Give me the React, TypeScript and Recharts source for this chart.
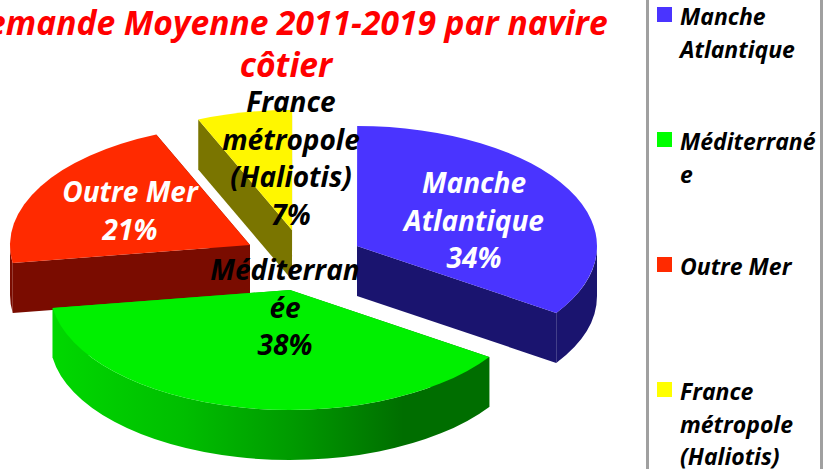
import React from "react";
import { PieChart, Pie, Legend } from "recharts";

const categories = ["Manche Atlantique", "Méditerranée", "Outre Mer", "France métropole (Haliotis)"];
// slice sizes as measured on the picture (printed percentages are in percentLabels)
const values = [34.4, 38.2, 21, 6.4];
const percentLabels = ["34%", "38%", "21%", "7%"];
const labelLines = [["Manche", "Atlantique"], ["Méditerran", "ée"], ["Outre Mer"], ["France", "métropole", "(Haliotis)"]];
const legendLines = [["Manche", "Atlantique"], ["Méditerrané", "e"], ["Outre Mer"], ["France", "métropole", "(Haliotis)"]];
const titleLines = ["Demande Moyenne 2011-2019 par navire", "côtier"];

const drawOrder = [2, 3, 0, 1];
const table = drawOrder.map((i) => ({ name: categories[i], value: values[i], idx: i }));

const topColors = ["#4A34FF", "#00F000", "#FF2A00", "#FFF700"];
const legendColors = ["#4A34FF", "#00FF00", "#FF2A00", "#FFFF00"];
const wallColors = ["#1A146F", "url(#greenWall)", "#7A0C00", "#7A7500"];
const explode = [[67, -4], [0, 40], [-40, -5], [2, -20]];
const labelPos = [[474, 193], [285, 280], [130, 202], [291, 112]];
const labelFill = ["#fff", "#000", "#fff", "#000"];

const FONT = "'Open Sans', Lato, sans-serif";
const CX = 290, CY = 250, RX = 240, RY = 120, DEPTH = 50;

function SliceShape(props: any) {
  const i = props.payload?.idx ?? props.idx;
  const ox = props.cx + explode[i][0];
  const oy = props.cy + explode[i][1];
  const rx = props.outerRadius;
  const ry = rx * (RY / RX);
  const t0 = 90 - props.startAngle;
  const t1 = 90 - props.endAngle;
  const pt = (t: number, d = 0): [number, number] => {
    const r = (t * Math.PI) / 180;
    return [ox + rx * Math.sin(r), oy - ry * Math.cos(r) + d];
  };
  const norm = (t: number) => ((t % 360) + 360) % 360;
  const a0 = norm(t0);
  const a1 = a0 + (t1 - t0);
  const a = pt(a0), b = pt(a1);
  const large = a1 - a0 > 180 ? 1 : 0;
  const top = `M${ox},${oy}L${a[0]},${a[1]}A${rx},${ry} 0 ${large} 1 ${b[0]},${b[1]}Z`;
  const radial = (t: number) => {
    const p = pt(t);
    return `M${ox},${oy}L${p[0]},${p[1]}L${p[0]},${p[1] + DEPTH}L${ox},${oy + DEPTH}Z`;
  };
  const s = Math.max(a0, 90), e = Math.min(a1, 270);
  let outer = "";
  if (e > s) {
    const p = pt(s), q = pt(e);
    const l = e - s > 180 ? 1 : 0;
    outer = `M${p[0]},${p[1]}A${rx},${ry} 0 ${l} 1 ${q[0]},${q[1]}L${q[0]},${q[1] + DEPTH}A${rx},${ry} 0 ${l} 0 ${p[0]},${p[1] + DEPTH}Z`;
  }
  const wall = wallColors[i];
  return (
    <g>
      <path d={radial(a0)} fill={wall} />
      <path d={radial(a1)} fill={wall} />
      {outer && <path d={outer} fill={wall} />}
      <path d={top} fill={topColors[i]} />
    </g>
  );
}

function SliceLabel(props: any) {
  const i = props.payload?.idx ?? props.idx;
  const [x, y] = labelPos[i];
  const lines = [...labelLines[i], percentLabels[i]];
  return (
    <text x={x} y={y} textAnchor="middle" fontFamily={FONT} fontSize={28} fontWeight={700} fontStyle="italic" fill={labelFill[i]}>
      {lines.map((l, k) => (
        <tspan key={k} x={x} y={y + k * 37.5}>{l}</tspan>
      ))}
    </text>
  );
}

function LegendBox() {
  const tops = [0, 125, 250, 375];
  return (
    <div style={{ position: "absolute", left: 0, top: 0, width: 823, height: 469, fontFamily: FONT, fontWeight: 700, fontStyle: "italic", fontSize: 23, color: "#000" }}>
      <div style={{ position: "absolute", left: 646, top: 0, width: 3, height: 469, background: "#A0A0A0" }} />
      <div style={{ position: "absolute", left: 820, top: 0, width: 3, height: 469, background: "#A0A0A0" }} />
      {categories.map((c, i) => (
        <div key={c}>
          <div style={{ position: "absolute", left: 657, top: tops[i] + 7, width: 15, height: 15, background: legendColors[i] }} />
          {legendLines[i].map((l, k) => (
            <div key={k} style={{ position: "absolute", left: 680, top: tops[i] + k * 32.5, lineHeight: "33px", whiteSpace: "nowrap" }}>{l}</div>
          ))}
        </div>
      ))}
    </div>
  );
}

export default function App() {
  return (
    <div style={{ position: "absolute", left: 0, top: 0, width: 823, height: 469, overflow: "hidden", background: "#fff" }}>
      <PieChart width={823} height={469} margin={{ top: 0, right: 0, bottom: 0, left: 0 }}>
        <defs>
          <linearGradient id="greenWall" gradientUnits="userSpaceOnUse" x1={52} y1={0} x2={491} y2={0}>
            <stop offset="0" stopColor="#00D800" />
            <stop offset="0.3" stopColor="#00BE00" />
            <stop offset="0.55" stopColor="#009A00" />
            <stop offset="0.8" stopColor="#006E00" />
            <stop offset="1" stopColor="#006E00" />
          </linearGradient>
        </defs>
        <text textAnchor="middle" fontFamily={FONT} fontSize={33.6} fontWeight={700} fontStyle="italic" fill="#FF0000">
          <tspan x={286} y={35}>{titleLines[0]}</tspan>
          <tspan x={286} y={77}>{titleLines[1]}</tspan>
        </text>
        <Pie
          data={table}
          dataKey="value"
          nameKey="name"
          cx={CX}
          cy={CY}
          innerRadius={0}
          outerRadius={RX}
          startAngle={-171.4}
          endAngle={-531.4}
          stroke="none"
          isAnimationActive={false}
          shape={SliceShape}
          label={SliceLabel}
          labelLine={false}
        />
        <Legend content={() => <LegendBox />} wrapperStyle={{ left: 0, top: 0, width: 823, height: 469 }} />
      </PieChart>
    </div>
  );
}
